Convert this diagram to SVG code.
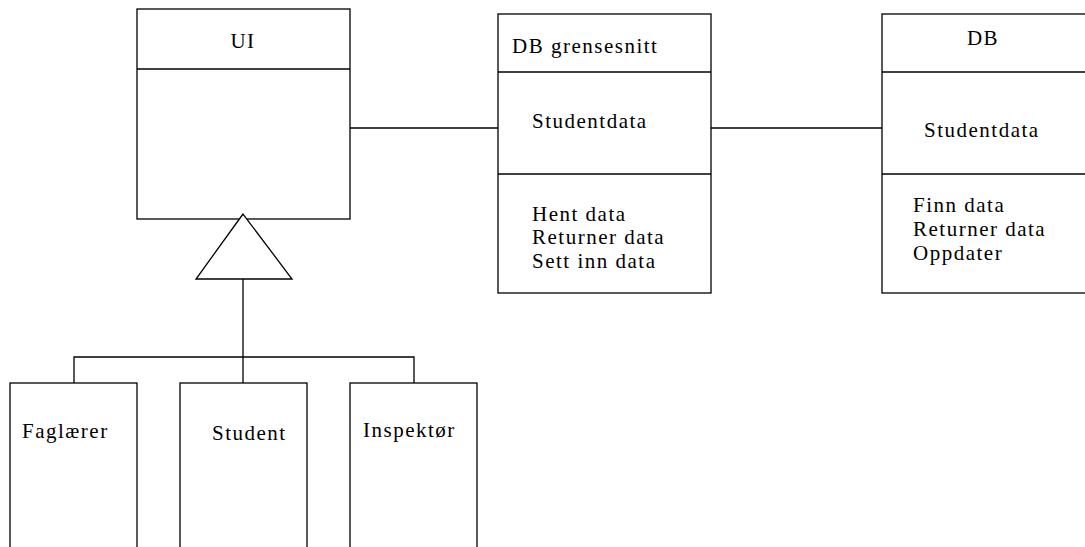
<svg xmlns="http://www.w3.org/2000/svg" width="1085" height="547" viewBox="0 0 1085 547">
  <style>
    .box { fill: #fff; stroke: #000; stroke-width: 1.3; }
    .ln { fill: none; stroke: #000; stroke-width: 1.3; }
    text { font-family: "Liberation Serif", "Times New Roman", serif; font-size: 21px; letter-spacing: 1.5px; fill: #000; }
  </style>
  <rect width="1085" height="547" fill="#fff"/>

  <!-- associations and generalization tree -->
  <g id="connectors">
    <line class="ln" x1="350" y1="128" x2="498" y2="128"/>
    <line class="ln" x1="711" y1="128" x2="882" y2="128"/>
    <polyline class="ln" points="243,279 243,383"/>
    <polyline class="ln" points="74,383 74,357 414,357 414,383"/>
  </g>

  <g id="ui">
    <rect class="box" x="137" y="9" width="213" height="210"/>
    <line class="ln" x1="137" y1="69" x2="350" y2="69"/>
    <text x="243" y="48" text-anchor="middle">UI</text>
  </g>

  <!-- inheritance triangle -->
  <g id="generalization">
    <polygon class="box" points="243,214 196,279 292,279"/>
  </g>

  <g id="db-grensesnitt">
    <rect class="box" x="498" y="14" width="213" height="279"/>
    <line class="ln" x1="498" y1="72" x2="711" y2="72"/>
    <line class="ln" x1="498" y1="174" x2="711" y2="174"/>
    <text x="512" y="53">DB grensesnitt</text>
    <text x="532" y="128">Studentdata</text>
    <text x="532" y="221">Hent data</text>
    <text x="532" y="244">Returner data</text>
    <text x="532" y="268">Sett inn data</text>
  </g>

  <g id="db">
    <rect class="box" x="882" y="14" width="220" height="279"/>
    <line class="ln" x1="882" y1="72" x2="1085" y2="72"/>
    <line class="ln" x1="882" y1="174" x2="1085" y2="174"/>
    <text x="983" y="45" text-anchor="middle">DB</text>
    <text x="924" y="137">Studentdata</text>
    <text x="913" y="212">Finn data</text>
    <text x="913" y="236">Returner data</text>
    <text x="913" y="260">Oppdater</text>
  </g>

  <g id="faglaerer">
    <rect class="box" x="10" y="383" width="127" height="180"/>
    <text x="22" y="438">Faglærer</text>
  </g>

  <g id="student">
    <rect class="box" x="180" y="383" width="127" height="180"/>
    <text x="212" y="440">Student</text>
  </g>

  <g id="inspektor">
    <rect class="box" x="350" y="383" width="127" height="180"/>
    <text x="363" y="437">Inspektør</text>
  </g>
</svg>
